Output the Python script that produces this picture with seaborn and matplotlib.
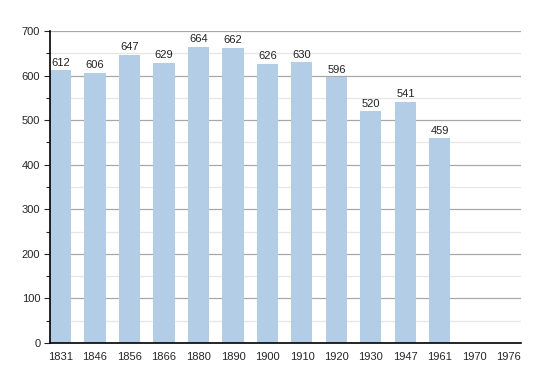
import pandas as pd
import seaborn as sns
import matplotlib.pyplot as plt
from matplotlib.ticker import MultipleLocator

years = ['1831', '1846', '1856', '1866', '1880', '1890', '1900',
         '1910', '1920', '1930', '1947', '1961', '1970', '1976']
population = [612, 606, 647, 629, 664, 662, 626,
              630, 596, 520, 541, 459, None, None]

df = pd.DataFrame({'year': years, 'pop': population})

sns.set_style('white')
plt.rcParams['font.family'] = ['Liberation Sans', 'DejaVu Sans']

fig = plt.figure(figsize=(5.5, 3.73), dpi=100)
ax = fig.add_axes([50 / 550, 1 - 343 / 373, 471 / 550, 312 / 373])

sns.barplot(data=df, x='year', y='pop', color='#b3cde6', saturation=1,
            width=0.61, linewidth=0, ax=ax, zorder=2)

# value labels above the bars
for i, v in enumerate(population):
    if v is not None:
        ax.text(i, v + 6, str(v), ha='center', va='bottom', fontsize=8, color='#222222')

ax.set_ylim(0, 700)
ax.set_xlim(-0.305, 13.35)
ax.yaxis.set_major_locator(MultipleLocator(100))
ax.yaxis.set_minor_locator(MultipleLocator(50))
ax.grid(which='major', axis='y', color='#a8a8a8', linewidth=0.9, zorder=0)
ax.grid(which='minor', axis='y', color='#e6e6e6', linewidth=0.9, zorder=0)
ax.set_axisbelow(True)

for s in ['top', 'right']:
    ax.spines[s].set_visible(False)
for s in ['left', 'bottom']:
    ax.spines[s].set_color('black')
    ax.spines[s].set_linewidth(1.2)
    ax.spines[s].set_zorder(4)

ax.tick_params(axis='y', which='major', left=True, length=4, width=0.8, labelsize=8, pad=3)
ax.tick_params(axis='y', which='minor', left=True, length=3, width=0.8)
ax.tick_params(axis='x', bottom=False, labelsize=8, pad=3)
ax.set_xlabel('')
ax.set_ylabel('')

fig.savefig('out.png', dpi=100)
